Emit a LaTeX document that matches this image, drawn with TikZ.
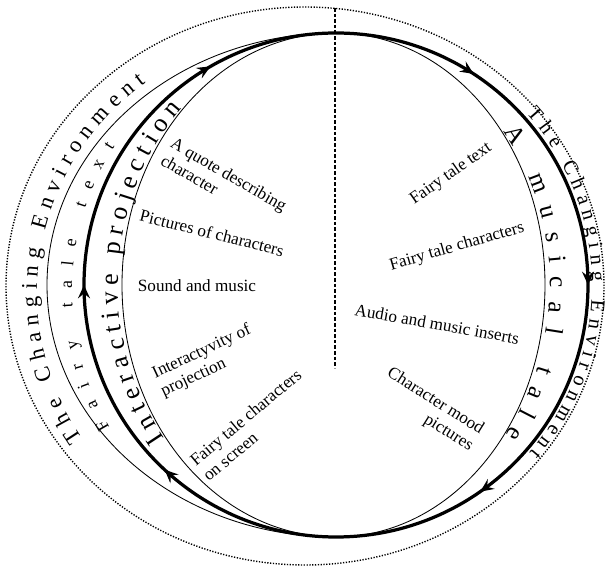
\documentclass[tikz,border=0pt]{standalone}
\usepackage{fontspec}
\setmainfont{Liberation Serif}
\usetikzlibrary{arrows.meta, decorations.markings, decorations.text}

\newcommand{\envfont}{\fontsize{16}{18}\selectfont}
\newcommand{\rimfont}{\fontsize{14.5}{16}\selectfont}
\newcommand{\talefont}{\fontsize{12.5}{14}\selectfont}
\newcommand{\projfont}{\fontsize{18.5}{20}\selectfont}
\newcommand{\musfont}{\fontsize{18}{20}\selectfont}

\begin{document}
\begin{tikzpicture}[
    x=0.025cm, y=0.025cm,
    >={Stealth[length=9.5pt, width=8.5pt, inset=3.5pt]},
    thickline/.style={line width=2.3pt},
    thinline/.style={line width=0.6pt},
    dotline/.style={line width=1pt, dash pattern=on 0.9pt off 1.1pt},
    axisline/.style={line width=0.9pt, dash pattern=on 2.5pt off 1.5pt},
    itemtext/.style={font=\fontsize{12.2}{14.2}\selectfont, inner sep=0pt},
    bandtext/.style={decorate, decoration={text along path, text align={fit to path}, text={#1}}}
]
\useasboundingbox (0,0) rectangle (608,567);

% outer border and divider
\draw[dotline] (305,281) ellipse [x radius=299, y radius=279];
\coordinate (divtop) at (335,559);
\coordinate (divbot) at (335,199);
\draw[axisline] (divtop) -- (divbot);

% thin guide arcs
\draw[thinline] (336,534) arc[start angle=90, end angle=270, x radius=289, y radius=252];
\draw[thinline] (336,534) arc[start angle=90, end angle=270, x radius=214, y radius=252];
\draw[thinline] (336,534) arc[start angle=90, end angle=-90, x radius=209, y radius=252];

% main cycle, clockwise
\draw[thickline, postaction={decorate}, decoration={markings,
    mark=at position 0.092 with {\arrow{>}},
    mark=at position 0.25 with {\arrow{>}},
    mark=at position 0.403 with {\arrow{>}},
    mark=at position 0.619 with {\arrow{>}},
    mark=at position 0.75 with {\arrow{>}},
    mark=at position 0.917 with {\arrow{>}}}]
    (336,534) arc[start angle=90, end angle=-270, radius=252];

% texts along the bands
\path[bandtext={|\envfont|The Changing Environment}]
    ([shift={(320,274)}]213:283 and 267) arc[start angle=213, end angle=128, x radius=283, y radius=267];
\path[bandtext={|\talefont|Fairy tale text}]
    ([shift={(336,276)}]211:264 and 265) arc[start angle=211, end angle=147, x radius=264, y radius=265];
\path[bandtext={|\projfont|Interactive projection}]
    ([shift={(336,282)}]218:218 and 249) arc[start angle=218, end angle=135, x radius=218, y radius=249];
\path[bandtext={|\musfont|A musical tale}]
    ([shift={(336,282)}]38.5:214 and 247) arc[start angle=38.5, end angle=-37.5, x radius=214, y radius=247];
\path[bandtext={|\rimfont|The Changing Environment}]
    ([shift={(336,282)}]42:256) arc[start angle=42, end angle=-41, radius=256];

% left items
\node[itemtext, rotate=-30, align=left] (qdesc) at (224,384) {A quote describing\\character};
\node[itemtext, rotate=-14] (picchar) at (212,334) {Pictures of characters};
\node[itemtext] (sndmus) at (197,281) {Sound and music};
\node[itemtext, rotate=25, align=left] (interact) at (206,206) {Interactyvity of\\projection};
\node[itemtext, rotate=40, align=left] (onscreen) at (252,142) {Fairy tale characters\\on screen};

% right items
\node[itemtext, rotate=35] (ftext) at (451,393) {Fairy tale text};
\node[itemtext, rotate=16] (fchar) at (457,320) {Fairy tale characters};
\node[itemtext, rotate=-10] (audio) at (437,243) {Audio and music inserts};
\node[itemtext, rotate=-32, align=right] (mood) at (430,157) {Character mood\\pictures};

\end{tikzpicture}
\end{document}
